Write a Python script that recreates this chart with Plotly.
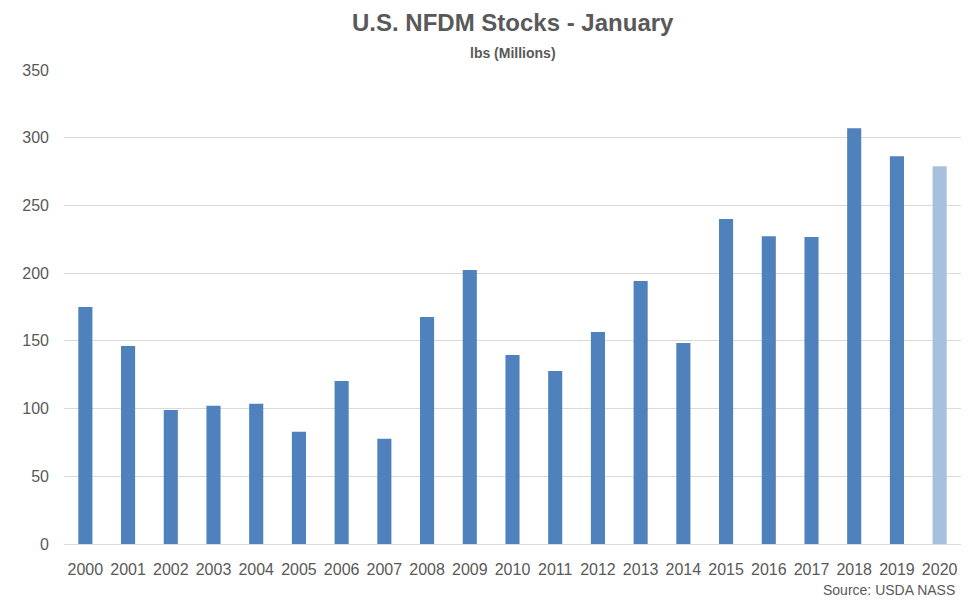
import plotly.graph_objects as go

years = [str(y) for y in range(2000, 2021)]
stocks = [175.0, 146.2, 99.0, 102.0, 103.5, 82.8, 120.4, 77.7, 167.6, 202.3,
          139.6, 127.8, 156.5, 194.2, 148.4, 239.9, 227.3, 226.6, 307.0, 286.3, 278.9]
bar_colors = ["#4f81bd"] * 20 + ["#a7c0de"]

title_text = "U.S. NFDM Stocks - January"
subtitle_text = "lbs (Millions)"
source_text = "Source: USDA NASS"

font_family = "Liberation Sans Narrow, Liberation Sans, Arial, sans-serif"
grey = "#595959"

fig = go.Figure()
fig.add_trace(go.Bar(x=years, y=stocks, marker=dict(color=bar_colors, line=dict(width=0)),
                     hoverinfo="x+y"))

fig.update_layout(
    width=975, height=601,
    margin=dict(l=64, r=14, t=70, b=57),
    paper_bgcolor="white", plot_bgcolor="white",
    bargap=0.67,
    showlegend=False,
    font=dict(family=font_family, color=grey, size=15),
    xaxis=dict(type="category", showgrid=False, showline=False, ticks="",
               ticklabelstandoff=14,
               tickfont=dict(size=16, color=grey)),
    yaxis=dict(range=[0, 350], dtick=50, showgrid=True, gridcolor="#d9d9d9", gridwidth=1,
               zeroline=True, zerolinecolor="#d9d9d9", zerolinewidth=1,
               ticklabelstandoff=14,
               showline=False, ticks="", tickfont=dict(size=16, color=grey)),
    annotations=[
        dict(text="<b>" + title_text + "</b>", x=0.5, y=1, xref="paper", yref="paper",
             yanchor="middle", yshift=70 - 22,
             showarrow=False, font=dict(size=24, color=grey)),
        dict(text="<b>" + subtitle_text + "</b>", x=0.5, y=1, xref="paper", yref="paper",
             yanchor="middle", yshift=70 - 53,
             showarrow=False, font=dict(size=14, color=grey)),
        dict(text=source_text, x=1, y=0, xref="paper", yref="paper",
             xanchor="right", yanchor="middle", yshift=-(590 - 544), xshift=-4,
             showarrow=False, font=dict(size=14, color=grey)),
    ],
)

fig.write_html("out.html", config={"displayModeBar": False},
               post_script="document.body.style.margin='0';document.body.style.overflow='hidden';")
